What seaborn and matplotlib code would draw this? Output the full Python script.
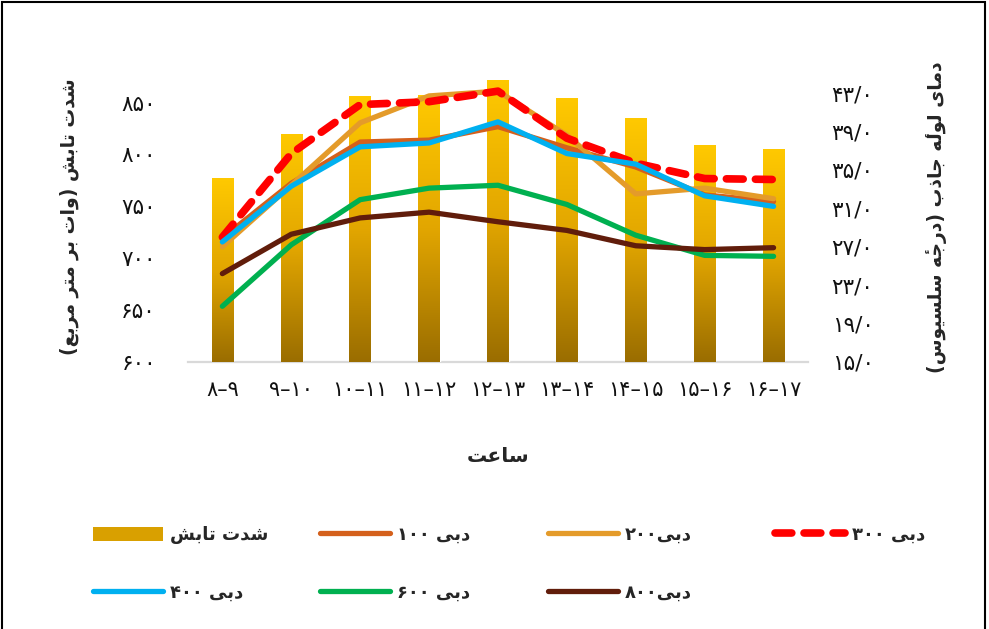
import numpy as np
import matplotlib
matplotlib.use("Agg")
import matplotlib.pyplot as plt
from matplotlib.colors import LinearSegmentedColormap
from matplotlib.lines import Line2D
from matplotlib.patches import Patch, Rectangle
import seaborn as sns

# data
hours = ["۸–۹", "۹–۱۰", "۱۰–۱۱", "۱۱–۱۲", "۱۲–۱۳", "۱۳–۱۴", "۱۴–۱۵", "۱۵–۱۶", "۱۶–۱۷"]
radiation = [777, 820, 856, 857, 872, 854, 835, 809, 805]
q100 = [27.9, 33.6, 37.9, 38.1, 39.5, 37.3, 35.3, 32.4, 31.7]
q200 = [27.0, 33.4, 39.9, 42.7, 43.2, 38.6, 32.5, 33.1, 32.0]
q300 = [28.0, 36.7, 41.8, 42.1, 43.2, 38.3, 35.7, 34.1, 34.0]
q400 = [27.5, 33.3, 37.4, 37.8, 40.0, 36.7, 35.6, 32.3, 31.2]
q600 = [20.8, 27.2, 31.9, 33.1, 33.4, 31.4, 28.2, 26.1, 26.0]
q800 = [24.2, 28.3, 30.0, 30.6, 29.6, 28.7, 27.1, 26.7, 26.9]

bar_label = "شدت تابش"
series_labels = ["دبی ۱۰۰", "دبی۲۰۰", "دبی ۳۰۰", "دبی ۴۰۰", "دبی ۶۰۰", "دبی۸۰۰"]
series_colors = ["#D4601C", "#E49B2A", "#FF0000", "#00B0F0", "#00B050", "#611D0B"]
left_label = "شدت تابش (وات بر متر مربع)"
right_label = "دمای لولۀ جاذب (درجۀ سلسیوس)"
x_label = "ساعت"

# matplotlib has no arabic shaping, so map letters to presentation forms
FORMS = {
    "ا": ("\uFE8D", "\uFE8E", None, None),
    "ب": ("\uFE8F", "\uFE90", "\uFE91", "\uFE92"),
    "ت": ("\uFE95", "\uFE96", "\uFE97", "\uFE98"),
    "ج": ("\uFE9D", "\uFE9E", "\uFE9F", "\uFEA0"),
    "د": ("\uFEA9", "\uFEAA", None, None),
    "ذ": ("\uFEAB", "\uFEAC", None, None),
    "ر": ("\uFEAD", "\uFEAE", None, None),
    "س": ("\uFEB1", "\uFEB2", "\uFEB3", "\uFEB4"),
    "ش": ("\uFEB5", "\uFEB6", "\uFEB7", "\uFEB8"),
    "ع": ("\uFEC9", "\uFECA", "\uFECB", "\uFECC"),
    "ل": ("\uFEDD", "\uFEDE", "\uFEDF", "\uFEE0"),
    "م": ("\uFEE1", "\uFEE2", "\uFEE3", "\uFEE4"),
    "ه": ("\uFEE9", "\uFEEA", "\uFEEB", "\uFEEC"),
    # heh + hamza above, kept together as one token
    "ۀ": ("\uFEE9\u0654", "\uFEEA\u0654", None, None),
    "و": ("\uFEED", "\uFEEE", None, None),
    "ی": ("\uFEEF", "\uFEF0", "\uFEF3", "\uFEF4"),
}
DIGITS = "۰۱۲۳۴۵۶۷۸۹"
MIRROR = {"(": ")", ")": "("}


def fa(text):
    shaped = []
    for i, ch in enumerate(text):
        f = FORMS.get(ch)
        if f is None:
            shaped.append(ch)
            continue
        prev = FORMS.get(text[i - 1]) if i > 0 else None
        nxt = FORMS.get(text[i + 1]) if i + 1 < len(text) else None
        jp = prev is not None and prev[2] is not None
        jn = f[2] is not None and nxt is not None
        if jp and jn:
            shaped.append(f[3])
        elif jn:
            shaped.append(f[2])
        elif jp:
            shaped.append(f[1])
        else:
            shaped.append(f[0])
    # split into digit runs and the rest, then lay out right to left
    runs = []
    for tok in shaped:
        is_d = tok in DIGITS
        if runs and runs[-1][0] == is_d:
            runs[-1][1].append(tok)
        else:
            runs.append((is_d, [tok]))
    out = ""
    for is_d, toks in reversed(runs):
        if is_d:
            out += "".join(toks)
        else:
            out += "".join(MIRROR.get(t, t) for t in reversed(toks))
    return out


def fa_num(s):
    return s.translate(str.maketrans("0123456789", DIGITS))


sns.set_style("white")
plt.rcParams["font.family"] = ["DejaVu Sans"]

fig = plt.figure(figsize=(9.89, 6.29), dpi=100)
ax = fig.add_axes([0.190, 0.4245, 0.627, 0.452])

sns.barplot(x=hours, y=radiation, ax=ax, width=0.31, color="#E0A400", zorder=1)
ax.set_ylim(600, 874)
ax.set_xlim(-0.5, len(hours) - 0.5)

# vertical gold gradient inside each bar
cmap = LinearSegmentedColormap.from_list("gold", ["#9A6D00", "#E2A600", "#FFC900"])
grad = np.linspace(0, 1, 256).reshape(-1, 1)
ymin = ax.get_ylim()[0]
for p in ax.patches:
    x0, w, top = p.get_x(), p.get_width(), p.get_y() + p.get_height()
    im = ax.imshow(grad, cmap=cmap, origin="lower", aspect="auto",
                   extent=(x0, x0 + w, ymin, top), zorder=2)
    im.set_clip_path(p)
ax.set_ylim(600, 874)
ax.set_xlim(-0.5, len(hours) - 0.5)

ax2 = ax.twinx()
all_series = [q100, q200, q300, q400, q600, q800]
handles = [Patch(facecolor="#D9A000", edgecolor="none")]
for vals, col, lab in zip(all_series, series_colors, series_labels):
    dashed = lab == "دبی ۳۰۰"
    lw = 5.5 if dashed else 3.8
    ls = (0, (2.2, 1.6)) if dashed else "-"
    sns.lineplot(x=hours, y=vals, ax=ax2, color=col, linewidth=lw, linestyle=ls,
                 sort=False, legend=False, dash_capstyle="round",
                 solid_capstyle="round")
    handles.append(Line2D([0], [0], color=col, linewidth=lw, linestyle=ls,
                          dash_capstyle="round", solid_capstyle="round"))
ax2.set_ylim(15, 44.6)

# ticks
ax.set_yticks(range(600, 851, 50))
ax.set_yticklabels([fa_num(str(v)) for v in range(600, 851, 50)])
r_ticks = list(range(15, 44, 4))
ax2.set_yticks(r_ticks)
ax2.set_yticklabels([fa_num(f"{v}/0") for v in r_ticks])
ax.tick_params(axis="y", length=0, pad=23, labelsize=15.5, labelcolor="#111111")
ax2.tick_params(axis="y", length=0, pad=17, labelsize=15.5, labelcolor="#111111")
ax.tick_params(axis="x", length=0, pad=13, labelsize=15, labelcolor="#111111")

for a in (ax, ax2):
    for s in a.spines.values():
        s.set_visible(False)
ax.spines["bottom"].set_visible(True)
ax.spines["bottom"].set_color("#D9D9D9")
ax.spines["bottom"].set_linewidth(1.6)
ax.spines["bottom"].set_zorder(0)

ax.set_ylabel(fa(left_label), fontsize=13.5, fontweight="bold", rotation=90)
ax.yaxis.set_label_coords(-0.176, 0.51)
ax2.set_ylabel(fa(right_label), fontsize=13.5, fontweight="bold", rotation=90)
ax2.yaxis.set_label_coords(1.19, 0.51)
ax.set_xlabel(fa(x_label), fontsize=14.5, fontweight="bold", labelpad=34)

# legend, laid out row by row in four columns
labels = [bar_label] + series_labels
col_x = [0.094, 0.3236, 0.554, 0.7836]
row_y = [1 - 535 / 629, 1 - 593 / 629]
for k, (h, lab) in enumerate(zip(handles, labels)):
    r, c = divmod(k, 4)
    fig.legend([h], [fa(lab)], loc="center left", bbox_to_anchor=(col_x[c], row_y[r]),
               frameon=False, borderpad=0, borderaxespad=0, handlelength=3.9,
               handleheight=0.8, handletextpad=0.35,
               prop=dict(weight="bold", size=13))

# outer frame
fig.add_artist(Rectangle((2 / 989, -0.02), 983 / 989, 1.02 - 2 / 629,
                         transform=fig.transFigure, fill=False,
                         edgecolor="black", linewidth=1.5))

fig.savefig("out.png", dpi=100)
